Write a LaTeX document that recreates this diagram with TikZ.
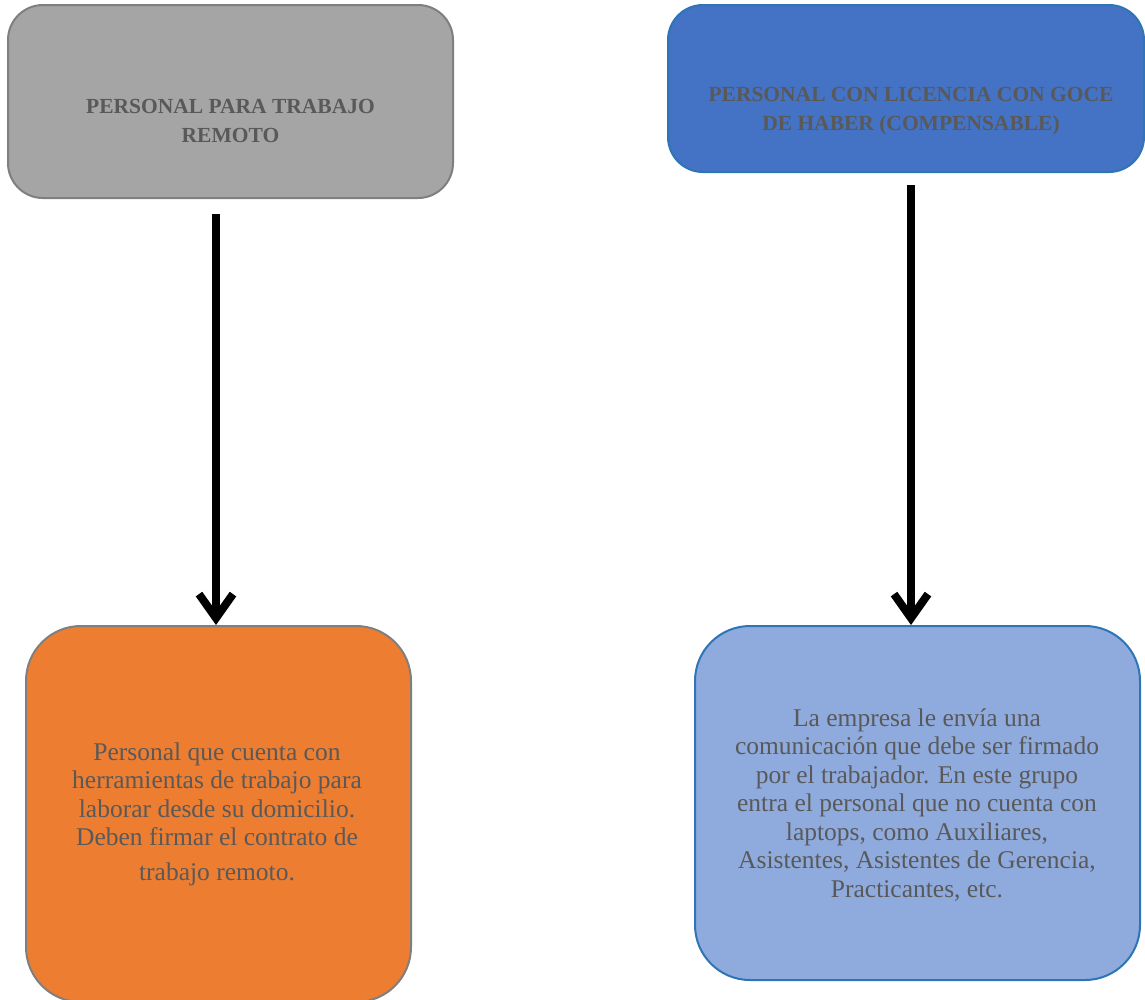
\documentclass[tikz,border=0pt]{standalone}
\usepackage{fontspec}
\setmainfont{Liberation Serif}
\usetikzlibrary{arrows.meta}
\definecolor{txtgray}{HTML}{595959}
\definecolor{boxgray}{HTML}{A5A5A5}
\definecolor{edgegray}{HTML}{7F7F7F}
\definecolor{darkblue}{HTML}{4472C4}
\definecolor{edgeblue}{HTML}{2E75B6}
\definecolor{boxorange}{HTML}{ED7D31}
\definecolor{lightblue}{HTML}{8FAADC}
\begin{document}
\begin{tikzpicture}[x=1pt,y=-1pt,
  box/.style={draw, line width=2pt, inner sep=0pt},
  ttl/.style={text=txtgray, align=center, font=\bfseries\fontsize{21.5}{29}\selectfont},
  bodytext/.style={text=txtgray, align=center, font=\fontsize{25.5}{28.5}\selectfont},
  arr/.style={line width=8pt, -{Straight Barb[length=24pt,width=34pt]}}
]
\useasboundingbox (0,0) rectangle (1145,999);
\node[box, fill=boxgray, draw=edgegray, rounded corners=35pt, minimum width=445pt, minimum height=193pt] (b1) at (230.5,101.5) {};
\node[box, fill=darkblue, draw=edgeblue, rounded corners=35pt, minimum width=476pt, minimum height=167pt] (b2) at (906,88.5) {};
\node[box, fill=boxorange, draw=edgegray, rounded corners=55pt, minimum width=385pt, minimum height=376pt] (b3) at (218.5,814) {};
\node[box, fill=lightblue, draw=edgeblue, rounded corners=55pt, minimum width=445pt, minimum height=354pt] (b4) at (917.5,803) {};

\node[ttl] (t1) at (230.5,121) {PERSONAL PARA TRABAJO\\REMOTO};
\node[ttl] (t2) at (911,111.5) {PERSONAL CON LICENCIA CON GOCE\\DE HABER (COMPENSABLE)};
\node[bodytext] (t3) at (217,814) {Personal que cuenta con\\herramientas de trabajo para\\laborar desde su domicilio.\\Deben firmar el contrato de\\[6pt]trabajo remoto.};
\node[bodytext] (t4) at (917,805) {La empresa le envía una\\comunicación que debe ser firmado\\por el trabajador. En este grupo\\entra el personal que no cuenta con\\laptops, como Auxiliares,\\Asistentes, Asistentes de Gerencia,\\Practicantes, etc.};

\draw[arr, shorten <=15pt] ([xshift=-2.5pt]b3.north |- b1.south) -- ([xshift=-2.5pt]b3.north);
\draw[arr, shorten <=12pt] ([xshift=-6.5pt]b4.north |- b2.south) -- ([xshift=-6.5pt]b4.north);
\end{tikzpicture}
\end{document}
